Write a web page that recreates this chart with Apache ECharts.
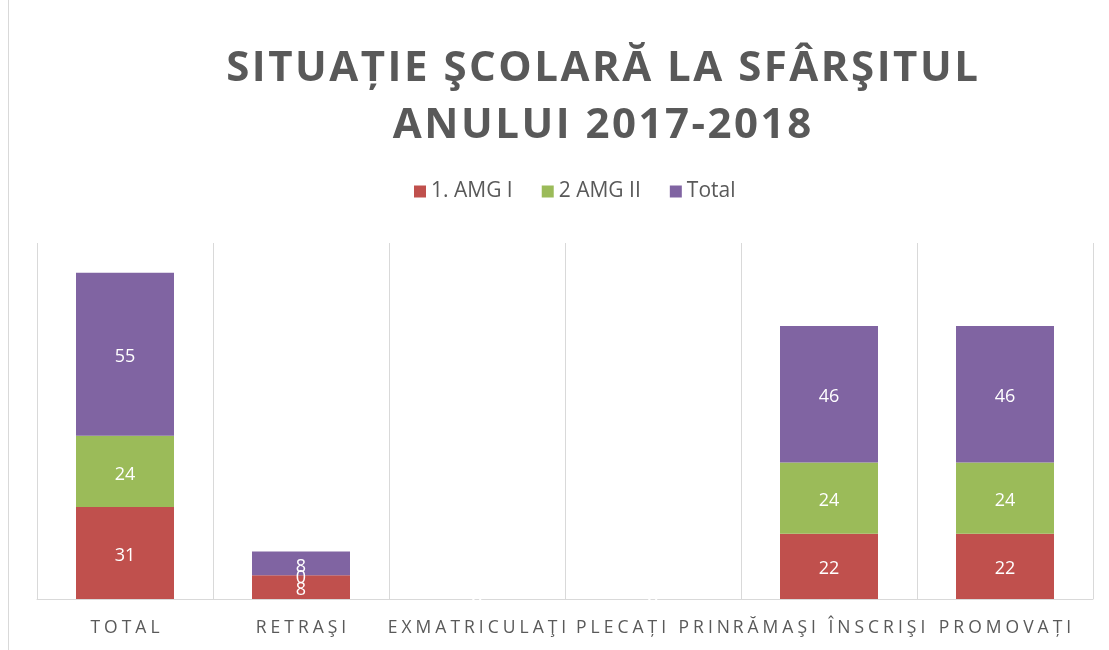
<!DOCTYPE html>
<html>
<head>
<meta charset="utf-8">
<style>html,body{margin:0;padding:0;background:#fff}#chart{width:1109px;height:650px}</style>
<script src="https://cdn.jsdelivr.net/npm/echarts@6/dist/echarts.min.js"></script>
</head>
<body>
<div id="chart"></div>
<script>
var categories = ['TOTAL', 'RETRAŞI', 'EXMATRICULAŢI', 'PLECAȚI PRIN', 'RĂMAŞI ÎNSCRIŞI', 'PROMOVAȚI'];
var seriesNames = ['1. AMG I', '2 AMG II', 'Total'];
var amg1 = [31, 8, 0, 0, 22, 22];
var amg2 = [24, 0, 0, 0, 24, 24];
var total = [55, 8, 0, 0, 46, 46];
var colors = ['#C0504D', '#9BBB59', '#8064A2'];
var titleLines = ['SITUAȚIE ŞCOLARĂ LA SFÂRŞITUL', 'ANULUI 2017-2018'];

// letter spacing for the axis labels and title only (text stays real text)
(function () {
  var P = CanvasRenderingContext2D.prototype;
  function spacingFor(font) {
    if (/17\.5px/.test(font)) return 4.0;
    if (/42px/.test(font)) return 2.5;
    return 0;
  }
  ['fillText', 'strokeText'].forEach(function (fn) {
    var orig = P[fn];
    P[fn] = function (t, x, y, m) {
      if (!('letterSpacing' in this)) return orig.apply(this, arguments);
      var f = this.font;
      var ls = spacingFor(f);
      this.letterSpacing = ls + 'px';
      this.font = f;
      var dx = 0;
      if (ls) dx = this.textAlign === 'center' ? ls / 2 : (this.textAlign === 'right' || this.textAlign === 'end') ? ls : 0;
      var r = m === undefined ? orig.call(this, t, x + dx, y) : orig.call(this, t, x + dx, y, m);
      this.letterSpacing = '0px';
      this.font = f;
      return r;
    };
  });
})();

var chart = echarts.init(document.getElementById('chart'));
function mk(name, data, color) {
  return {
    name: name, type: 'bar', stack: 's', data: data, barWidth: 98,
    itemStyle: { color: color },
    label: { show: true, position: 'inside', offset: [0, 3], color: '#fff', fontSize: 18, fontFamily: 'Open Sans' }
  };
}
chart.setOption({
  animation: false,
  backgroundColor: '#fff',
  title: {
    text: titleLines.join('\n'),
    left: 597, top: 36, textAlign: 'center',
    textStyle: { fontFamily: 'Open Sans', fontWeight: 'bold', fontSize: 42, color: '#595959', lineHeight: 57 }
  },
  legend: {
    data: seriesNames, top: 176, left: 409,
    itemWidth: 12, itemHeight: 12, itemGap: 29, icon: 'rect',
    textStyle: { fontFamily: 'Open Sans', fontSize: 21, color: '#595959' }
  },
  grid: { left: 37, right: 16, top: 243, bottom: 51, containLabel: false },
  xAxis: {
    type: 'category', data: categories,
    axisLine: { lineStyle: { color: '#D9D9D9', width: 1 } },
    axisTick: { show: false },
    splitLine: { show: true, lineStyle: { color: '#D9D9D9' } },
    axisLabel: { interval: 0, margin: 20, fontFamily: 'Open Sans', fontSize: 17.5, color: '#595959' }
  },
  yAxis: { type: 'value', min: 0, max: 120, show: false, splitLine: { show: false } },
  series: [mk(seriesNames[0], amg1, colors[0]), mk(seriesNames[1], amg2, colors[1]), mk(seriesNames[2], total, colors[2])],
  graphic: [{ type: 'line', shape: { x1: 8.5, y1: 0, x2: 8.5, y2: 650 }, style: { stroke: '#D9D9D9', lineWidth: 1 } }]
});
</script>
</body>
</html>
